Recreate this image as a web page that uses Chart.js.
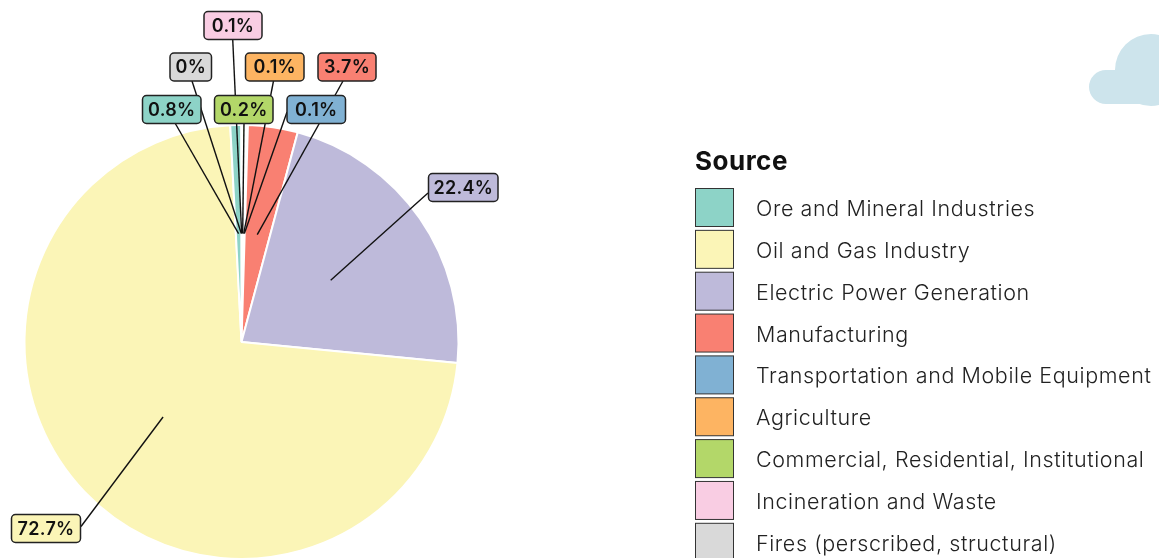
<!DOCTYPE html>
<html>
<head>
<meta charset="utf-8">
<style>
  html, body { margin: 0; padding: 0; background: #fff; overflow: hidden; height: 558px; }
  canvas { display: block; }
</style>
</head>
<body>
<!-- canvas runs 2px past the window, the pie is cut off at the bottom in the original too -->
<canvas id="sourceChart" width="1159" height="560"></canvas>
<script src="https://cdn.jsdelivr.net/npm/chart.js@4"></script>
<script>
// legend order, the pie runs the other way round
const categories = ['Ore and Mineral Industries', 'Oil and Gas Industry', 'Electric Power Generation', 'Manufacturing', 'Transportation and Mobile Equipment', 'Agriculture', 'Commercial, Residential, Institutional', 'Incineration and Waste', 'Fires (perscribed, structural)'];
const shares = [0.8, 72.7, 22.4, 3.7, 0.1, 0.1, 0.2, 0.1, 0];
const colors = ['#8dd3c7', '#fbf5b7', '#bebada', '#f98072', '#80b1d3', '#fdb462', '#b3d769', '#f9cde3', '#d9d9d9'];

// callout boxes, same order as categories (tx/ty = where the leader stops)
const callouts = [
  { x: 142.5, y: 95.5, w: 58.5, h: 28, tx: 175, ty: 123 },
  { x: 11.5, y: 514.5, w: 69, h: 28, tx: 81, ty: 526.5 },
  { x: 428.5, y: 173.5, w: 69.5, h: 28, tx: 428, ty: 193 },
  { x: 318, y: 53, w: 58, h: 28, tx: 343, ty: 81 },
  { x: 287, y: 95.5, w: 58.5, h: 28, tx: 287, ty: 112 },
  { x: 245.5, y: 53, w: 58.5, h: 28, tx: 273.5, ty: 81 },
  { x: 214.5, y: 95.5, w: 58.5, h: 28, tx: 244, ty: 123 },
  { x: 204, y: 11.5, w: 58, h: 28, tx: 232.7, ty: 39 },
  { x: 170, y: 53, w: 41.5, h: 28, tx: 192, ty: 81 }
];

const reversed = arr => arr.slice().reverse();

const cloudPlugin = {
  id: 'cloud',
  beforeDraw(chart) {
    const ctx = chart.ctx;
    ctx.save();
    ctx.fillStyle = '#cde4ec';
    ctx.beginPath();
    ctx.arc(1106, 87, 17, 0, Math.PI * 2);
    ctx.arc(1151, 70, 36, 0, Math.PI * 2);
    ctx.rect(1106, 70, 60, 34);
    ctx.fill();
    ctx.restore();
  }
};

const calloutPlugin = {
  id: 'callouts',
  afterDatasetsDraw(chart) {
    const ctx = chart.ctx;
    const arcs = chart.getDatasetMeta(0).data;
    ctx.save();
    // leaders first so the boxes sit on top of them
    ctx.strokeStyle = '#111';
    ctx.lineWidth = 1.4;
    callouts.forEach((c, i) => {
      const p = arcs[categories.length - 1 - i].getCenterPoint();
      ctx.beginPath();
      ctx.moveTo(p.x, p.y);
      ctx.lineTo(c.tx, c.ty);
      ctx.stroke();
    });
    ctx.font = '600 18px Inter';
    ctx.letterSpacing = '0.3px';
    ctx.textAlign = 'center';
    ctx.textBaseline = 'middle';
    callouts.forEach((c, i) => {
      ctx.beginPath();
      ctx.roundRect(c.x, c.y, c.w, c.h, 4);
      ctx.fillStyle = colors[i];
      ctx.fill();
      ctx.lineWidth = 1.5;
      ctx.strokeStyle = '#222';
      ctx.stroke();
      ctx.fillStyle = '#111';
      ctx.fillText(shares[i] + '%', c.x + c.w / 2, c.y + c.h / 2 + 1);
    });
    ctx.restore();
  }
};

const legendPlugin = {
  id: 'sourceLegend',
  afterDraw(chart) {
    const ctx = chart.ctx;
    ctx.save();
    ctx.fillStyle = '#111';
    ctx.font = '700 26px Inter';
    ctx.letterSpacing = '0.5px';
    ctx.textBaseline = 'alphabetic';
    ctx.fillText('Source', 695, 170);
    ctx.font = '300 21.5px Inter';
    ctx.letterSpacing = '0.6px';
    ctx.textBaseline = 'middle';
    categories.forEach((name, i) => {
      const y = 188.5 + i * 41.85;
      ctx.fillStyle = colors[i];
      ctx.fillRect(695.5, y, 38, 38);
      ctx.strokeStyle = '#333';
      ctx.lineWidth = 1;
      ctx.strokeRect(695.5, y, 38, 38);
      ctx.fillStyle = '#222';
      ctx.fillText(name, 756, y + 21);
    });
    ctx.restore();
  }
};

new Chart(document.getElementById('sourceChart').getContext('2d'), {
  type: 'pie',
  data: {
    labels: reversed(categories),
    datasets: [{ data: reversed(shares), backgroundColor: reversed(colors), borderColor: '#fff', borderWidth: 2 }]
  },
  options: {
    responsive: false,
    animation: false,
    rotation: -0.1,
    layout: { padding: { left: 23.5, right: 699.5, top: 124, bottom: 0 } },
    plugins: { legend: { display: false }, tooltip: { enabled: false } }
  },
  plugins: [cloudPlugin, calloutPlugin, legendPlugin]
});
</script>
</body>
</html>
